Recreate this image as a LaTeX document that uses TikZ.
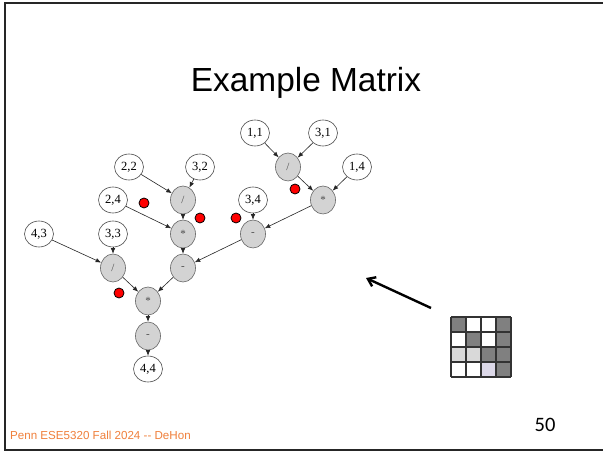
\documentclass[tikz,border=0pt]{standalone}
\usepackage{fontspec}
\setmainfont{Liberation Serif}
\newfontfamily\headfont{Liberation Sans}
\newfontfamily\pagenumfont{Carlito}
\usetikzlibrary{shapes.geometric,arrows.meta}

\definecolor{footorange}{RGB}{240,128,60}
\definecolor{cellDark}{RGB}{128,128,128}
\definecolor{cellLight}{RGB}{217,217,217}
\definecolor{cellLav}{RGB}{220,216,232}
\definecolor{opfill}{RGB}{211,211,211}

\begin{document}
\begin{tikzpicture}[x=1bp,y=-1bp,
  leaf/.style={ellipse,draw=black!70,fill=white,line width=0.6bp,
    minimum width=29bp,minimum height=26bp,inner sep=0pt,
    font=\fontsize{12.5bp}{12.5bp}\selectfont},
  op/.style={ellipse,draw=black!60,fill=opfill,line width=0.6bp,
    minimum width=25bp,minimum height=28bp,inner sep=0pt,text=black!70,
    font=\fontsize{11bp}{11bp}\selectfont},
  flow/.style={-{Latex[length=5.5bp,width=4.5bp]},line width=0.6bp,draw=black!85},
  marker/.style={circle,draw=black,fill=red,line width=0.8bp,
    minimum size=10bp,inner sep=0pt},
  gridline/.style={draw=black!80,line width=1.4bp}]

\useasboundingbox (0,0) rectangle (603,452);
\fill[white] (0,0) rectangle (603,452);

% slide frame
\draw[line width=2bp,black!85] (610,3.5) -- (4.5,3.5) -- (4.5,450) -- (610,450);

% title
\node[anchor=base,inner sep=0pt,font=\headfont\fontsize{33.4bp}{40bp}\selectfont]
  (title) at (306,92) {Example Matrix};

% operands and operations of the elimination graph
\node[leaf] (a11) at (255,133) {1,1};
\node[leaf] (a31) at (323,133) {3,1};
\node[op]   (d1)  at (288,167) {/};
\node[leaf] (a14) at (357,167) {1,4};
\node[op]   (m1)  at (323,200) {*};

\node[leaf] (a22) at (129,167) {2,2};
\node[leaf] (a32) at (200,167) {3,2};
\node[op]   (d2)  at (183,200) {/};
\node[leaf] (a24) at (113,200) {2,4};
\node[leaf] (a34) at (253,200) {3,4};
\node[op]   (m2)  at (183,234) {*};
\node[op]   (s1)  at (253,234) {-};

\node[leaf] (a43) at (39,234) {4,3};
\node[leaf] (a33) at (113,234) {3,3};
\node[op]   (d3)  at (113,268) {/};
\node[op]   (s2)  at (183,268) {-};

\node[op]   (m3)  at (148,301) {*};
\node[op]   (s3)  at (148,336) {-};
\node[leaf] (a44) at (148,369) {4,4};

% dependencies
\draw[flow] (a11) -- (d1);
\draw[flow] (a31) -- (d1);
\draw[flow] (d1) -- (m1);
\draw[flow] (a14) -- (m1);
\draw[flow] (a22) -- (d2);
\draw[flow] (a32) -- (d2);
\draw[flow] (d2) -- (m2);
\draw[flow] (a24) -- (m2);
\draw[flow] (m1) -- (s1);
\draw[flow] (a34) -- (s1);
\draw[flow] (a43) -- (d3);
\draw[flow] (a33) -- (d3);
\draw[flow] (m2) -- (s2);
\draw[flow] (s1) -- (s2);
\draw[flow] (d3) -- (m3);
\draw[flow] (s2) -- (m3);
\draw[flow] (m3) -- (s3);
\draw[flow] (s3) -- (a44);

% red markers
\node[marker] (r1) at (144,203) {};
\node[marker] (r2) at (200,218) {};
\node[marker] (r3) at (236,218) {};
\node[marker] (r4) at (295,189) {};
\node[marker] (r5) at (119,293) {};

% sparsity pattern of the matrix
\fill[cellDark]  (451,317) rectangle +(15,15);
\fill[cellDark]  (496,317) rectangle +(15,15);
\fill[cellDark]  (466,332) rectangle +(15,15);
\fill[cellDark]  (496,332) rectangle +(15,15);
\fill[cellLight] (451,347) rectangle +(15,15);
\fill[cellLight] (466,347) rectangle +(15,15);
\fill[cellDark]  (481,347) rectangle +(15,15);
\fill[cellDark]  (496,347) rectangle +(15,15);
\fill[cellLav]   (481,362) rectangle +(15,15);
\fill[cellDark]  (496,362) rectangle +(15,15);
\foreach \k in {0,1,2,3,4} {
  \draw[gridline] (451+15*\k,317) -- (451+15*\k,377);
  \draw[gridline] (451,317+15*\k) -- (511,317+15*\k);
}

% pointer from the matrix to the graph
\coordinate (ptail) at (431,308);
\coordinate (phead) at (366,278);
\draw[line width=2.4bp,-{Straight Barb[length=7bp,width=10bp]}] (ptail) -- (phead);

% footer and page number
\node[anchor=base west,inner sep=0pt,text=footorange,
  font=\headfont\fontsize{11.6bp}{13bp}\selectfont] (footer) at (10,439.5)
  {Penn ESE5320 Fall 2024 -- DeHon};
\node[anchor=base west,inner sep=0pt,
  font=\pagenumfont\fontsize{20.5bp}{24bp}\selectfont] (pnum) at (534.5,431.5) {50};
\end{tikzpicture}
\end{document}
